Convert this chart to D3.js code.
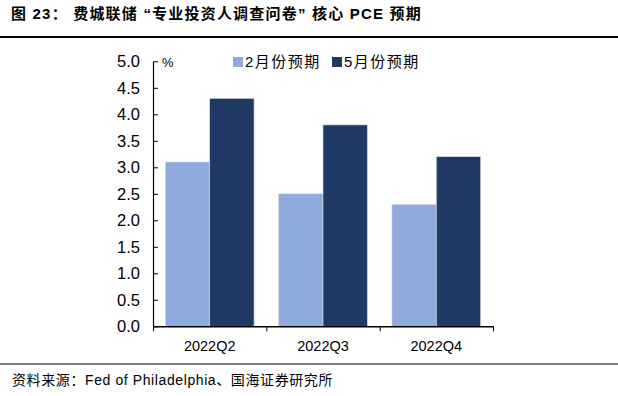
<!DOCTYPE html>
<html><head><meta charset="utf-8">
<script src="https://cdn.jsdelivr.net/npm/d3@7"></script>
<style>body{margin:0;background:#fff}svg{display:block}</style>
</head><body>
<svg id="c" width="618" height="396"></svg>
<script>
const categories = ["2022Q2", "2022Q3", "2022Q4"];
const seriesNames = ["2月份预期", "5月份预期"];
const febValues = [3.1, 2.5, 2.3];
const mayValues = [4.3, 3.8, 3.2];
const yTicks = [0, 0.5, 1.0, 1.5, 2.0, 2.5, 3.0, 3.5, 4.0, 4.5, 5.0];
const colors = ["#8FAADC", "#203864"];

const svg = d3.select("#c");
const cjk = "'Noto Sans CJK SC', sans-serif";
const lat = "'Liberation Sans', Arial, sans-serif";

// Title
svg.append("text").attr("x", 11).attr("y", 19)
  .attr("font-family", lat + "," + cjk).attr("font-weight", "bold").attr("font-size", 15)
  .attr("letter-spacing", 1.2).attr("fill", "#000")
  .text("图 23： 费城联储 “专业投资人调查问卷” 核心 PCE 预期");
svg.append("line").attr("x1", 0).attr("x2", 618).attr("y1", 37).attr("y2", 37)
  .attr("stroke", "#000").attr("stroke-width", 2);

const x0 = d3.scaleBand().domain(categories).range([153, 493]).paddingInner(0.217).paddingOuter(0.109);
const x1 = d3.scaleBand().domain([0, 1]).range([0, x0.bandwidth()]);
const y = d3.scaleLinear().domain([0, 5]).range([326.3, 61.3]);

const data = categories.map((c, i) => ({c, v: [febValues[i], mayValues[i]]}));
const g = svg.append("g");
data.forEach(d => {
  d.v.forEach((v, j) => {
    g.append("rect")
      .attr("x", x0(d.c) + x1(j)).attr("width", x1.bandwidth())
      .attr("y", y(v)).attr("height", y(0) - y(v))
      .attr("fill", colors[j]).attr("stroke", "#d8dde6").attr("stroke-width", 0.6);
  });
});

// Y axis
const yAxis = d3.axisLeft(y).tickValues(yTicks).tickFormat(d3.format(".1f")).tickSizeInner(-5).tickSizeOuter(0).tickPadding(13);
const ya = svg.append("g").attr("transform", "translate(153,0)").call(yAxis);
ya.select(".domain").attr("stroke", "#000").attr("stroke-width", 1.2);
ya.selectAll(".tick line").attr("stroke", "#000");
ya.selectAll("text").attr("font-family", lat).attr("font-size", 16.5).attr("fill", "#000");

// X axis
const xAxis = d3.axisBottom(d3.scaleLinear().domain([0, 3]).range([153, 493])).tickValues([0, 1, 2, 3]).tickFormat("").tickSizeInner(5).tickSizeOuter(0);
const xa = svg.append("g").attr("transform", "translate(0,326.3)").call(xAxis);
xa.select(".domain").attr("stroke", "#000").attr("stroke-width", 1.5);
xa.selectAll(".tick line").attr("stroke", "#000");
categories.forEach(c => {
  svg.append("text").attr("x", x0(c) + x0.bandwidth() / 2).attr("y", 351)
    .attr("text-anchor", "middle").attr("font-family", lat).attr("font-size", 14.5)
    .attr("fill", "#000").text(c);
});

// unit
svg.append("text").attr("x", 162).attr("y", 67).attr("font-family", lat).attr("font-size", 13).text("%");

// Legend
const legX = [233, 332];
seriesNames.forEach((n, j) => {
  svg.append("rect").attr("x", legX[j]).attr("y", 57).attr("width", 10).attr("height", 10).attr("fill", colors[j]);
  svg.append("text").attr("x", legX[j] + 12).attr("y", 67)
    .attr("font-family", lat + "," + cjk).attr("font-size", 15).attr("letter-spacing", 1.5)
    .attr("fill", "#000").text(n);
});

// Footer
svg.append("line").attr("x1", 0).attr("x2", 618).attr("y1", 364).attr("y2", 364)
  .attr("stroke", "#000").attr("stroke-width", 1);
svg.append("text").attr("x", 12).attr("y", 385).attr("font-family", lat + "," + cjk).attr("font-size", 14)
  .attr("letter-spacing", 0.6).attr("fill", "#000").text("资料来源：Fed of Philadelphia、国海证券研究所");
</script>
</body></html>
